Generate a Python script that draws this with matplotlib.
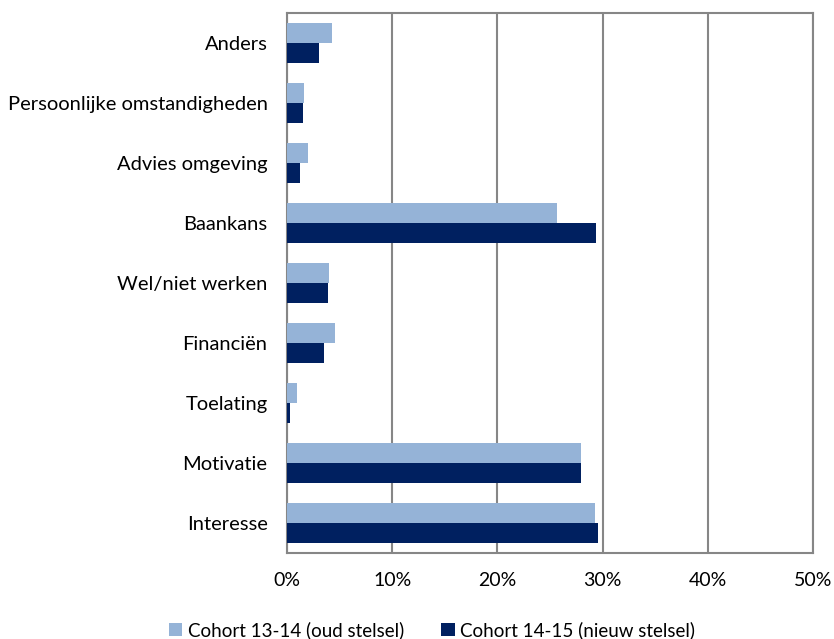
import matplotlib.pyplot as plt
import numpy as np

# categories top to bottom as in the chart
categories = ["Anders", "Persoonlijke omstandigheden", "Advies omgeving", "Baankans",
              "Wel/niet werken", "Financiën", "Toelating", "Motivatie", "Interesse"]
cohort_1314 = [4.25, 1.6, 1.95, 25.7, 4.0, 4.55, 0.92, 27.9, 29.3]
cohort_1415 = [3.0, 1.5, 1.2, 29.4, 3.9, 3.5, 0.3, 27.9, 29.6]
labels = ["Cohort 13-14 (oud stelsel)", "Cohort 14-15 (nieuw stelsel)"]
xticks = [0, 10, 20, 30, 40, 50]

plt.rcParams['font.family'] = ['Lato', 'DejaVu Sans']

fig = plt.figure(figsize=(8.34, 6.39), dpi=100)
ax = fig.add_axes([287/834, 1-553/639, (813-287)/834, (553-13)/639])

n = len(categories)
y = np.arange(n)
h = 1/3.0
ax.barh(y - h/2, cohort_1314, height=h, color="#95B3D7", label=labels[0], zorder=3)
ax.barh(y + h/2, cohort_1415, height=h, color="#002060", label=labels[1], zorder=3)

ax.set_ylim(n - 0.5, -0.5)
ax.set_yticks(y)
ax.set_yticklabels(categories, fontsize=14.5)
ax.set_xlim(0, 50)
ax.set_xticks(xticks)
ax.set_xticklabels([str(t) + "%" for t in xticks], fontsize=14)
ax.tick_params(axis='y', length=0, pad=14)
ax.tick_params(axis='x', length=0, pad=14)

ax.grid(axis='x', color="#868686", linewidth=1.5, zorder=0)
for s in ax.spines.values():
    s.set_color("#868686")
    s.set_linewidth(1.5)

fig.legend(loc="lower center", bbox_to_anchor=(0.518, -0.027), ncol=2, frameon=False,
           fontsize=13.5, handlelength=0.7, handleheight=0.7, handletextpad=0.3,
           columnspacing=2.0)

fig.savefig("out.png", dpi=100)
